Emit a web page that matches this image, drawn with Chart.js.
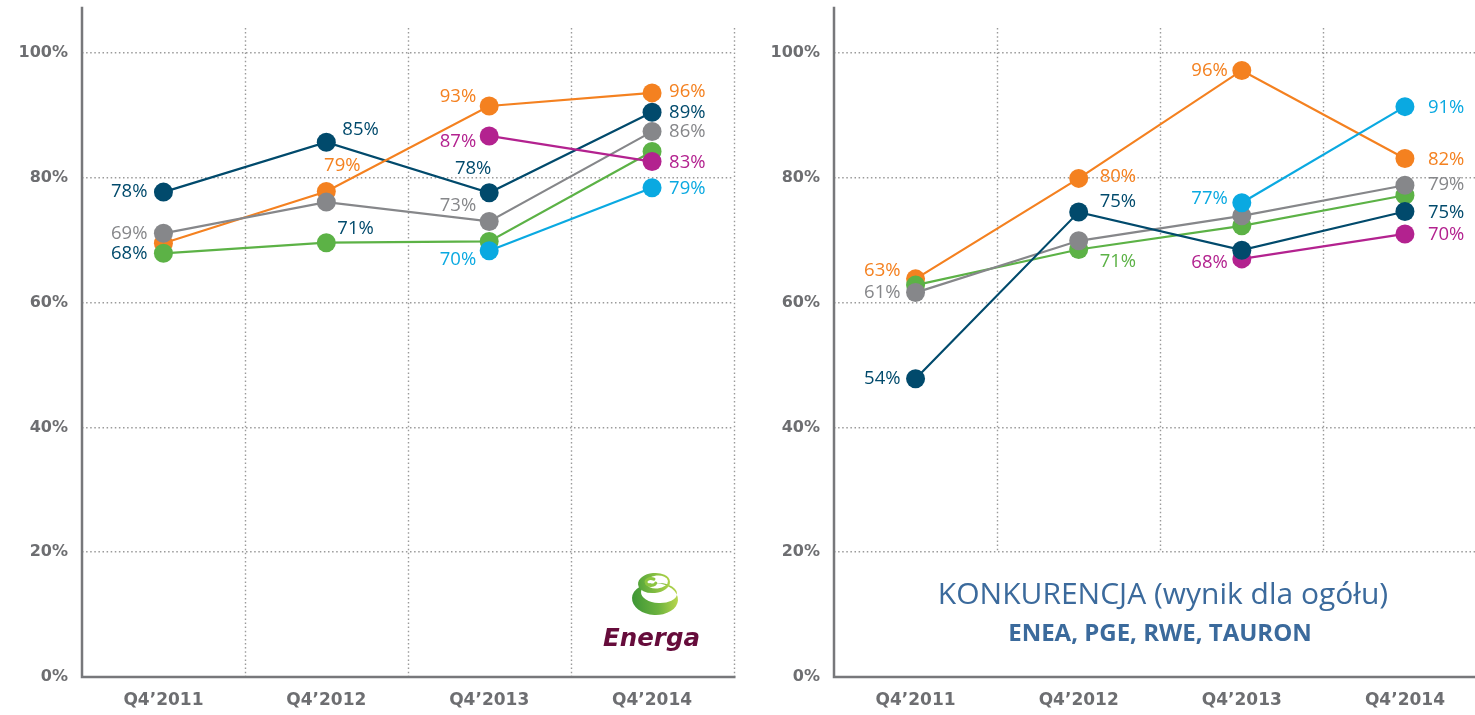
<!DOCTYPE html>
<html><head><meta charset="utf-8">
<script src="https://cdn.jsdelivr.net/npm/chart.js@4.4.1/dist/chart.umd.min.js"></script>
<style>
html,body{margin:0;padding:0;background:#fff;overflow:hidden;width:1475px;height:715px;position:relative}
#c1{position:absolute;left:0;top:0}
#c2{position:absolute;left:740px;top:0}
</style></head><body>
<canvas id="c1" width="743" height="715"></canvas>
<canvas id="c2" width="756" height="715"></canvas>
<script>
// ---- data ----
const categories = ['Q4\u20192011','Q4\u20192012','Q4\u20192013','Q4\u20192014'];
const yTickValues = [0,20,40,60,80,100];

// Energa (left)
const energaNavy    = [77.7, 85.7, 77.6, 90.5];
const energaOrange  = [69.5, 77.8, 91.5, 93.6];
const energaGray    = [71.1, 76.1, 73.0, 87.4];
const energaGreen   = [67.9, 69.6, 69.8, 84.2];
const energaCyan    = [null, null, 68.3, 78.4];
const energaMagenta = [null, null, 86.7, 82.6];
const energaNavyLabels    = [78, 85, 78, 89];
const energaOrangeLabels  = [null, 79, 93, 96];
const energaGrayLabels    = [69, null, 73, 86];
const energaGreenLabels   = [68, 71, null, null];
const energaCyanLabels    = [null, null, 70, 79];
const energaMagentaLabels = [null, null, 87, 83];

// Konkurencja (right)
const konkOrange  = [63.8, 79.9, 97.2, 83.1];
const konkGreen   = [62.8, 68.5, 72.3, 77.2];
const konkGray    = [61.6, 69.9, 73.9, 78.8];
const konkNavy    = [47.8, 74.5, 68.4, 74.6];
const konkCyan    = [null, null, 76.0, 91.4];
const konkMagenta = [null, null, 67.0, 71.0];
const konkOrangeLabels  = [63, 80, 96, 82];
const konkGreenLabels   = [null, 71, null, null];
const konkGrayLabels    = [61, null, null, 79];
const konkNavyLabels    = [54, 75, null, 75];
const konkCyanLabels    = [null, null, 77, 91];
const konkMagentaLabels = [null, null, 68, 70];

// ---- styles ----
const COL = {navy:'#014a6c', orange:'#f48120', gray:'#86878a', green:'#5cb246', cyan:'#0aa9e1', magenta:'#b3228f'};
const AXIS = '#77787b';
const TICK = '#6d6e71';
const GRID = '#9a9a9a';
const DASH = [1.5, 2.6];

// series order: first = drawn on top
const leftSeries = [
  {key:'cyan', data:energaCyan, labels:energaCyanLabels},
  {key:'magenta', data:energaMagenta, labels:energaMagentaLabels},
  {key:'green', data:energaGreen, labels:energaGreenLabels},
  {key:'gray', data:energaGray, labels:energaGrayLabels},
  {key:'orange', data:energaOrange, labels:energaOrangeLabels},
  {key:'navy', data:energaNavy, labels:energaNavyLabels}
];
const rightSeries = [
  {key:'cyan', data:konkCyan, labels:konkCyanLabels},
  {key:'navy', data:konkNavy, labels:konkNavyLabels},
  {key:'magenta', data:konkMagenta, labels:konkMagentaLabels},
  {key:'gray', data:konkGray, labels:konkGrayLabels},
  {key:'green', data:konkGreen, labels:konkGreenLabels},
  {key:'orange', data:konkOrange, labels:konkOrangeLabels}
];
// label placement: [seriesKey, index, align, dx, dy, colorOverride]
const leftPlace = [
  ['navy',0,'l',16,0],['navy',1,'r',16,-12],['navy',2,'c',-16,-24],['navy',3,'r',17,0],
  ['orange',1,'c',16,-26],['orange',2,'l',13,-9],['orange',3,'r',17,-1],
  ['gray',0,'l',16,0],['gray',2,'l',13,-16],['gray',3,'r',17,0],
  ['green',0,'l',16,0,'navy'],['green',1,'r',11,-14,'navy'],
  ['cyan',2,'l',13,9],['cyan',3,'r',17,1],
  ['magenta',2,'l',13,6],['magenta',3,'r',17,1]
];
const rightPlace = [
  ['orange',0,'l',15,-8],['orange',1,'r',21,-2],['orange',2,'l',14,0],['orange',3,'r',23,1],
  ['green',1,'r',21,12],
  ['gray',0,'l',15,0],['gray',3,'r',23,-1],
  ['navy',0,'l',15,0],['navy',1,'r',21,-10],['navy',3,'r',23,1],
  ['cyan',2,'l',14,-4],['cyan',3,'r',23,1],
  ['magenta',2,'l',14,4],['magenta',3,'r',23,1]
];

function crescent(ctx, o, i, fill){
  ctx.beginPath();
  ctx.ellipse(o[0], o[1], o[2], o[3], o[4]||0, 0, Math.PI*2);
  ctx.ellipse(i[0], i[1], i[2], i[3], i[4]||0, 0, Math.PI*2, true);
  ctx.fillStyle = fill;
  ctx.fill('evenodd');
}
function drawLogo(ctx){
  ctx.save();
  let g1 = ctx.createLinearGradient(630, 600, 680, 596);
  g1.addColorStop(0, '#3a9435'); g1.addColorStop(0.55, '#6db33f'); g1.addColorStop(1, '#c2da4f');
  crescent(ctx, [655, 599, 23, 16, 0.05], [659, 593, 18, 10, 0.05], g1);
  let g2 = ctx.createLinearGradient(636, 584, 672, 580);
  g2.addColorStop(0, '#4ea23a'); g2.addColorStop(1, '#b5d648');
  crescent(ctx, [654, 583, 16, 10, -0.1], [657, 582, 11, 6.5, -0.1], g2);
  ctx.strokeStyle = '#8cc540'; ctx.lineWidth = 3; ctx.lineCap = 'round';
  ctx.beginPath(); ctx.ellipse(651, 582, 5, 3.5, 0, Math.PI*0.1, Math.PI*1.7); ctx.stroke();
  ctx.fillStyle = '#660c3b';
  ctx.font = 'italic bold 24.5px "DejaVu Sans"';
  ctx.textAlign = 'left'; ctx.textBaseline = 'alphabetic';
  ctx.fillText('Energa', 603, 646);
  ctx.restore();
}
function drawTitle(ctx){
  ctx.save();
  ctx.fillStyle = '#3b6a9c';
  ctx.textAlign = 'center'; ctx.textBaseline = 'alphabetic';
  ctx.font = '30px "Open Sans"';
  ctx.fillText('KONKURENCJA (wynik dla ogółu)', 423, 604);
  ctx.font = 'bold 24px "Open Sans"';
  ctx.fillText('ENEA, PGE, RWE, TAURON', 420, 641);
  ctx.restore();
}

function makeChart(id, series, place, yAxisWidth, padRight, vGridFloor, extra){
  const extrasPlugin = {
    id:'extras',
    beforeDatasetsDraw(chart){
      const ctx = chart.ctx, a = chart.chartArea, y = chart.scales.y, x = chart.scales.x;
      ctx.save();
      // vertical category-boundary grid lines (down to vGridFloor)
      const yEnd = y.getPixelForValue(vGridFloor);
      const half = (x.getPixelForValue(1) - x.getPixelForValue(0)) / 2;
      ctx.strokeStyle = GRID; ctx.lineWidth = 1.4; ctx.setLineDash(DASH);
      for (let i = 1; i <= categories.length; i++) {
        const px = Math.round(x.getPixelForValue(i) - half) + 0.5;
        ctx.beginPath(); ctx.moveTo(px, a.top); ctx.lineTo(px, yEnd); ctx.stroke();
      }
      ctx.setLineDash([]);
      // axis lines
      ctx.strokeStyle = AXIS; ctx.lineWidth = 2.5;
      ctx.beginPath();
      ctx.moveTo(a.left, y.getPixelForValue(107.4));
      ctx.lineTo(a.left, a.bottom);
      ctx.lineTo(a.right + 2, a.bottom);
      ctx.stroke();
      ctx.restore();
      if (extra) extra(ctx);
    },
    afterDatasetsDraw(chart){
      const ctx = chart.ctx;
      ctx.save();
      ctx.font = '18.5px "Open Sans"';
      ctx.textBaseline = 'middle';
      place.forEach(p => {
        const [key, i, al, dx, dy, colKey] = p;
        const si = series.findIndex(s => s.key === key);
        const pt = chart.getDatasetMeta(si).data[i];
        const txt = series[si].labels[i] + '%';
        ctx.fillStyle = COL[colKey || key];
        let x;
        if (al === 'l') { ctx.textAlign = 'right'; x = pt.x - dx; }
        else if (al === 'r') { ctx.textAlign = 'left'; x = pt.x + dx; }
        else { ctx.textAlign = 'center'; x = pt.x + dx; }
        ctx.fillText(txt, x, pt.y + dy);
      });
      ctx.restore();
    }
  };
  return new Chart(document.getElementById(id), {
    type:'line',
    data:{
      labels: categories,
      datasets: series.map(s => ({
        label: s.key, data: s.data,
        borderColor: COL[s.key], backgroundColor: COL[s.key],
        pointBackgroundColor: COL[s.key], pointBorderWidth: 0,
        pointRadius: 9.5, pointHoverRadius: 9.5, borderWidth: 2.2, tension: 0
      }))
    },
    options:{
      responsive:false, animation:false, events:[],
      layout:{padding:{top:28, right:padRight, left:0, bottom:0}},
      plugins:{legend:{display:false}, tooltip:{enabled:false}},
      scales:{
        x:{
          offset:true,
          grid:{display:false, drawTicks:false},
          border:{display:false},
          ticks:{color:TICK, font:{family:'DejaVu Sans', weight:'bold', size:17}, padding:13, maxRotation:0},
          afterFit(s){ s.height = 38; s.paddingLeft = 0; s.paddingRight = 0; }
        },
        y:{
          min:0, max:104,
          afterBuildTicks(s){ s.ticks = yTickValues.map(v => ({value:v})); },
          grid:{color:GRID, lineWidth:1.4, drawTicks:false},
          border:{display:false, dash:DASH},
          ticks:{color:TICK, font:{family:'DejaVu Sans', weight:'bold', size:16}, padding:14, callback:v => v + '%'},
          afterFit(s){ s.width = yAxisWidth; s.paddingTop = 0; s.paddingBottom = 0; }
        }
      }
    },
    plugins:[extrasPlugin]
  });
}

function init(){
  makeChart('c1', leftSeries, leftPlace, 82, 3, 0, drawLogo);
  makeChart('c2', rightSeries, rightPlace, 94, 0, 20, drawTitle);
}
Promise.all([
  document.fonts.load('18px "Open Sans"'),
  document.fonts.load('bold 18px "Open Sans"'),
  document.fonts.load('bold 16px "DejaVu Sans"'),
  document.fonts.load('italic bold 24px "DejaVu Sans"')
]).then(init, init);
</script>
</body></html>
